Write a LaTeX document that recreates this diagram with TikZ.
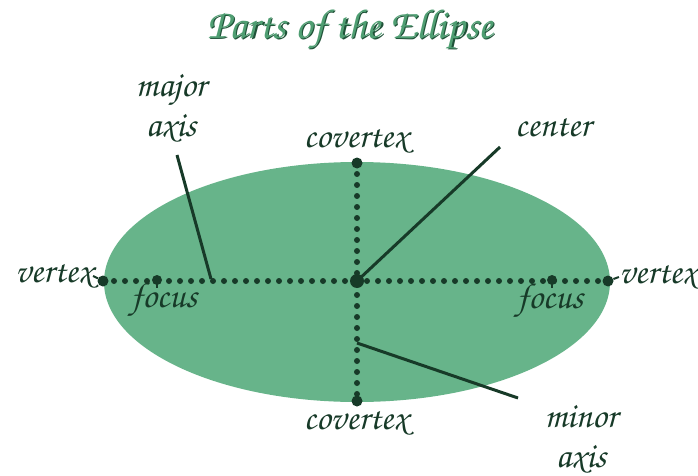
\documentclass[tikz,border=0pt]{standalone}
\usepackage[T1,TU]{fontenc}
\usepackage{xcolor}
\usepackage{tikz}
\usetikzlibrary{positioning, calc}
\definecolor{ellfill}{HTML}{67B48A}
\definecolor{inkdark}{HTML}{173A28}
\definecolor{titlegreen}{HTML}{4F9E72}
\definecolor{titleedge}{HTML}{1F5238}
\newcommand{\handfont}{\fontencoding{T1}\fontfamily{pzc}\fontseries{mb}\fontshape{it}\selectfont}
\tikzset{
  lbl/.style={font=\handfont\fontsize{36}{36}\selectfont, text=inkdark, inner sep=0pt, align=center},
  bigdot/.style={circle, fill=inkdark, inner sep=0pt, minimum size=11pt},
  ctrdot/.style={circle, fill=inkdark, inner sep=0pt, minimum size=14pt},
  fdot/.style={circle, fill=inkdark, inner sep=0pt, minimum size=10pt},
  dotline/.style={draw=inkdark, line width=6pt, line cap=round, dash pattern=on 0pt off 11pt},
  pointer/.style={draw=inkdark, line width=3pt},
  tick/.style={draw=inkdark, line width=2pt},
}
\begin{document}
\begin{tikzpicture}[x=1pt, y=-1pt]
  \useasboundingbox (0,0) rectangle (698,476);
  % ellipse
  \fill[ellfill] (357,282) ellipse [x radius=253, y radius=120];
  % title
  \node[font=\handfont\fontsize{42}{42}\selectfont, text=titleedge, inner sep=0pt] at (351.5,31.5) {Parts of the Ellipse};
  \node[font=\handfont\fontsize{42}{42}\selectfont, text=titlegreen, inner sep=0pt] (title) at (350,30) {Parts of the Ellipse};
  % key points
  \coordinate (C) at (357,281);
  \node[bigdot] (vL) at (103,281) {};
  \node[bigdot] (vR) at (608,281) {};
  \node[bigdot] (cvT) at (357,163) {};
  \node[bigdot] (cvB) at (357,401) {};
  \node[fdot] (fL) at (157,280) {};
  \node[fdot] (fR) at (552,280) {};
  % axes
  \draw[dotline] (vL.center) -- (vR.center);
  \draw[dotline] (cvT.center) -- (cvB.center);
  \draw[tick] (fL.center) -- ++(0,8);
  \draw[tick] (fR.center) -- ++(0,8);
  \node[ctrdot] (ctr) at (C) {};
  % labels
  \node[lbl] (vLlbl) at (54,276) {vertex};
  \node[lbl] (vRlbl) at (658,277) {vertex};
  \node[lbl] (fLlbl) at (164,300) {focus};
  \node[lbl] (fRlbl) at (550,301) {focus};
  \node[lbl] (cvTlbl) at (356,141) {covertex};
  \node[lbl] (cvBlbl) at (356,423) {covertex};
  \node[lbl] (ctrlbl) at (553,127) {center};
  \node[lbl] (majlbl) at (171,109) {major\\[4pt]axis};
  \node[lbl] (minlbl) at (581,440) {minor\\[4pt]axis};
  % connectors
  \draw[tick] (vLlbl.east) -- (vL);
  \draw[tick] (vR) -- (vRlbl.west);
  \coordinate (ctrTip) at (500,147);
  \coordinate (majTip) at (177,155);
  \coordinate (majFoot) at (211,279);
  \coordinate (minStart) at (357,343);
  \coordinate (minTip) at (518,398);
  \draw[pointer] (ctr.center) -- (ctrTip);
  \draw[pointer] (majTip) -- (majFoot);
  \draw[pointer] (minStart) -- (minTip);
\end{tikzpicture}
\end{document}
